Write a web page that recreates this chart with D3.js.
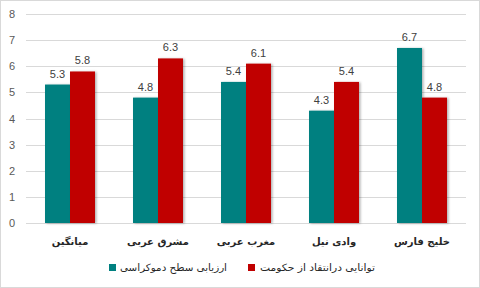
<!DOCTYPE html>
<html>
<head>
<meta charset="utf-8">
<script src="https://cdn.jsdelivr.net/npm/d3@7"></script>
<style>
  body { margin: 0; background: #fff; }
  .tick text { font-family: "Liberation Sans", Arial, sans-serif; }
</style>
</head>
<body>
<svg class="chart" width="480" height="288"></svg>
<script>
// regions, left to right
const regions = ["میانگین", "مشرق عربی", "مغرب عربی", "وادی نیل", "خلیج فارس"];
const seriesNames = ["ارزیابی سطح دموکراسی", "توانایی درانتقاد از حکومت"];
const democracy = [5.3, 4.8, 5.4, 4.3, 6.7];
const criticism = [5.8, 6.3, 6.1, 5.4, 4.8];
const yTicks = [0, 1, 2, 3, 4, 5, 6, 7, 8];
const colors = ["#008080", "#C00000"];

const svg = d3.select(".chart");
const width = +svg.attr("width");
const height = +svg.attr("height");

const margin = {left: 26, right: 14, top: 14, bottom: 65};
const innerWidth = width - margin.left - margin.right;
const innerHeight = height - margin.top - margin.bottom;

// chart border
svg.append("rect")
   .attr("x", 0.5).attr("y", 0.5)
   .attr("width", width - 1).attr("height", height - 1)
   .attr("fill", "#fff")
   .attr("stroke", "#d9d9d9");

const defs = svg.append("defs");
const shadow = defs.append("filter").attr("id", "shadow")
   .attr("x", "-20%").attr("y", "-10%").attr("width", "150%").attr("height", "120%");
shadow.append("feDropShadow")
      .attr("dx", 1.5).attr("dy", 0.5)
      .attr("stdDeviation", 1.3)
      .attr("flood-color", "#000")
      .attr("flood-opacity", 0.3);

const xScale = d3.scaleBand()
   .domain(regions)
   .range([0, innerWidth])
   .paddingInner(0.432)
   .paddingOuter(0.216);

const xSub = d3.scaleBand()
   .domain([0, 1])
   .range([0, xScale.bandwidth()]);

const yScale = d3.scaleLinear()
   .domain([0, 8])
   .range([innerHeight, 0]);

const g = svg.append("g")
   .attr("transform", `translate(${margin.left}, ${margin.top})`);

// gridlines
g.selectAll(".grid")
 .data(yTicks)
 .enter()
 .append("line")
 .attr("x1", 0)
 .attr("x2", innerWidth)
 .attr("y1", d => Math.round(yScale(d)) + 0.5)
 .attr("y2", d => Math.round(yScale(d)) + 0.5)
 .attr("stroke", "#d9d9d9")
 .attr("stroke-width", 1);

// y axis labels
const yAxis = g.append("g")
   .call(d3.axisLeft(yScale).tickValues(yTicks).tickSize(0).tickPadding(11).tickFormat(d3.format("d")));
yAxis.select(".domain").remove();
yAxis.selectAll("text")
     .attr("font-size", 11)
     .attr("fill", "#595959");

const series = [democracy, criticism];

for (let s = 0; s < series.length; s++) {
	const values = series[s];
	g.selectAll(".bar" + s)
	 .data(regions)
	 .enter()
	 .append("rect")
	 .attr("x", d => xScale(d) + xSub(s))
	 .attr("y", (d, i) => yScale(values[i]))
	 .attr("width", xSub.bandwidth())
	 .attr("height", (d, i) => innerHeight - yScale(values[i]))
	 .attr("fill", colors[s])
	 .attr("filter", "url(#shadow)");

	g.selectAll(".label" + s)
	 .data(regions)
	 .enter()
	 .append("text")
	 .attr("x", d => xScale(d) + xSub(s) + xSub.bandwidth() / 2)
	 .attr("y", (d, i) => yScale(values[i]) - 7)
	 .attr("text-anchor", "middle")
	 .attr("font-family", "Liberation Sans, Arial, sans-serif")
	 .attr("font-size", 11)
	 .attr("fill", "#404040")
	 .text((d, i) => values[i].toFixed(1));
}

// category labels
g.selectAll(".cat")
 .data(regions)
 .enter()
 .append("text")
 .attr("x", d => xScale(d) + xScale.bandwidth() / 2)
 .attr("y", innerHeight + 22)
 .attr("text-anchor", "middle")
 .attr("direction", "rtl")
 .attr("font-family", "DejaVu Sans, sans-serif")
 .attr("font-size", 10)
 .attr("font-weight", "bold")
 .attr("fill", "#262626")
 .text(d => d);

// legend
const legendItems = [
	{box: 109, textEnd: 227, len: 107},
	{box: 248, textEnd: 375, len: 115}
];
for (let i = 0; i < seriesNames.length; i++) {
	svg.append("rect")
	   .attr("x", legendItems[i].box)
	   .attr("y", 264)
	   .attr("width", 7)
	   .attr("height", 7)
	   .attr("fill", colors[i]);
	svg.append("text")
	   .attr("x", legendItems[i].textEnd)
	   .attr("y", 271)
	   .attr("direction", "rtl")
	   .attr("text-anchor", "start")
	   .attr("font-family", "DejaVu Sans, sans-serif")
	   .attr("font-size", 10)
	   .attr("fill", "#262626")
	   .attr("textLength", legendItems[i].len)
	   .attr("lengthAdjust", "spacingAndGlyphs")
	   .text(seriesNames[i]);
}
</script>
</body>
</html>
